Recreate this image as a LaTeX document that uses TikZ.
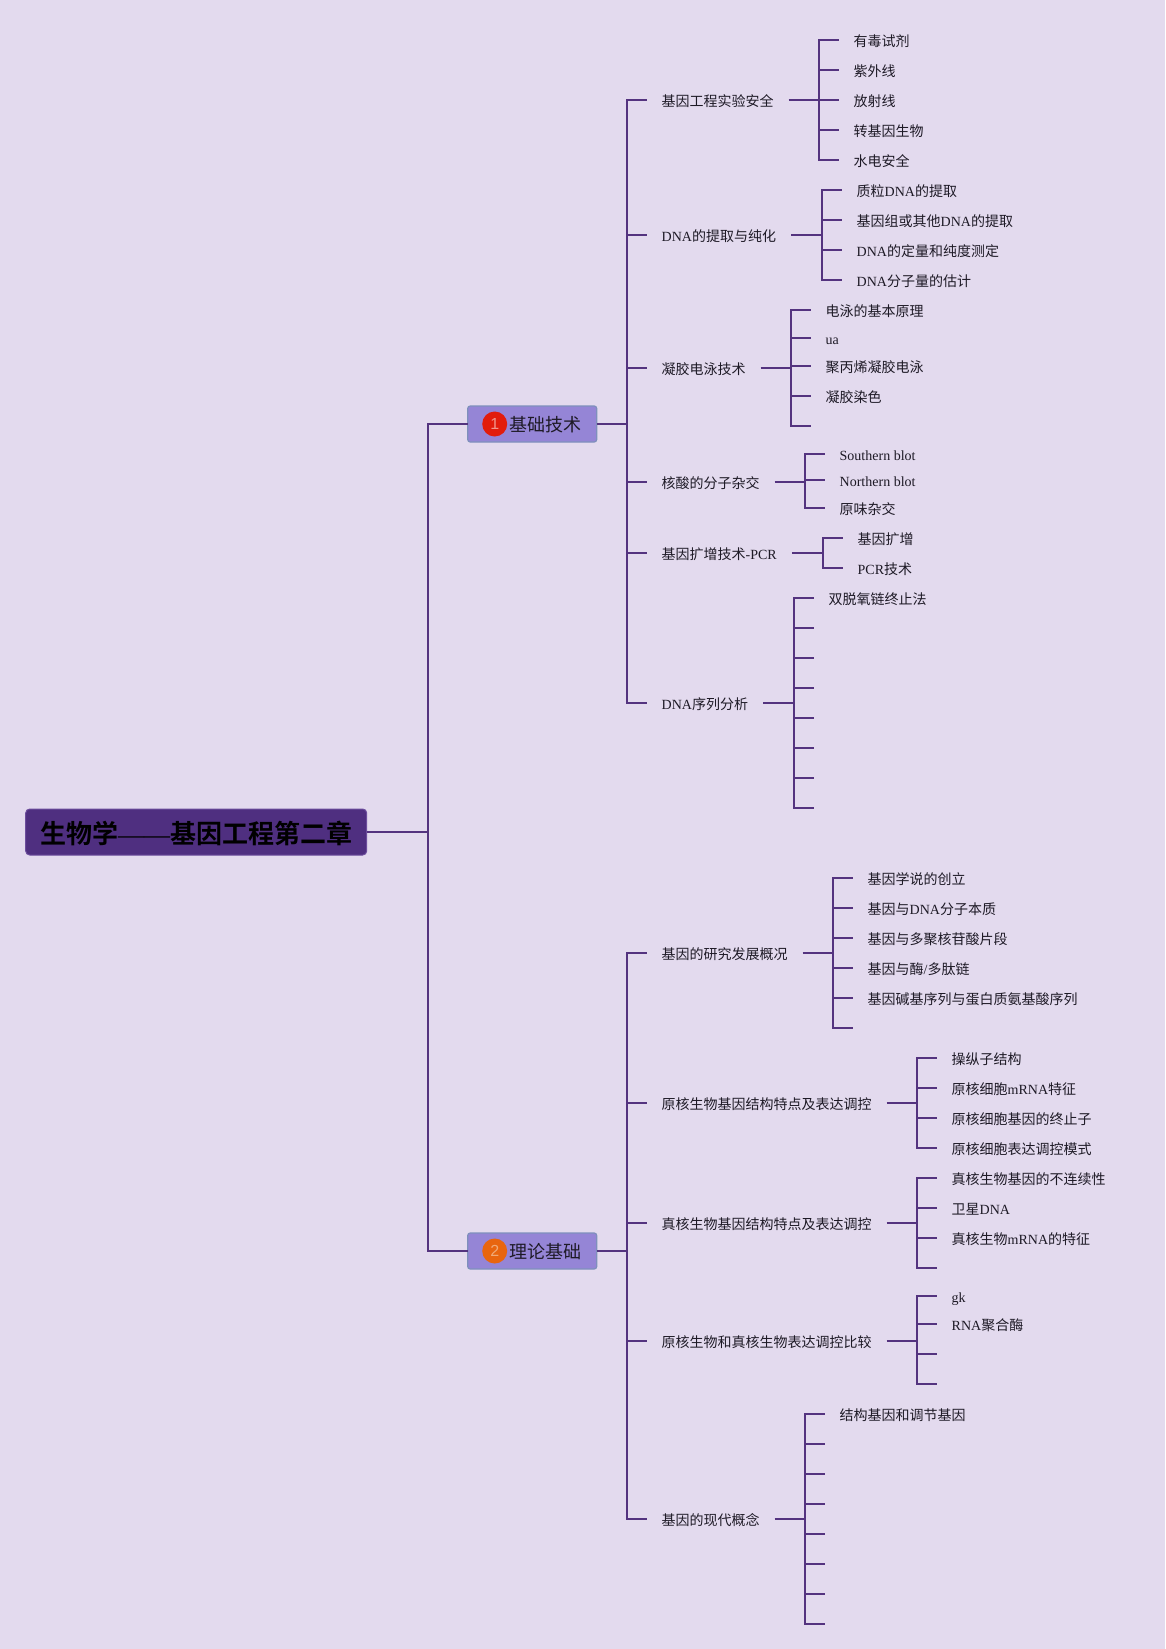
\documentclass[tikz,border=0pt]{standalone}
\usepackage{fontspec}
\setmainfont{Liberation Serif}
\newfontfamily\cjk[BoldFont={Noto Sans CJK SC Bold}]{Noto Sans CJK SC}
\newfontfamily\lsans{Liberation Sans}
\newfontfamily\lserif{Liberation Serif}
\newcommand{\zh}[1]{{\cjk #1}}
\definecolor{bgc}{HTML}{E3DAEE}
\definecolor{linec}{HTML}{54337F}
\definecolor{rootc}{HTML}{4F2F80}
\definecolor{rootb}{HTML}{6C4D9C}
\definecolor{topicc}{HTML}{9585D6}
\definecolor{topicb}{HTML}{7F90BC}
\definecolor{txtc}{HTML}{1E1A26}
\tikzset{
  conn/.style={draw=linec,line width=1.9pt},
  busline/.style={conn,line cap=rect},
  leaf/.style={anchor=west,inner xsep=15pt,inner ysep=0pt,outer sep=0pt,text height=13pt,text depth=0pt,text=txtc,font=\fontsize{14}{14}\selectfont},
  rootnode/.style={fill=rootc,draw=rootb,line width=1pt,rounded corners=4pt,minimum width=341pt,minimum height=46pt,inner sep=0pt,outer sep=0pt,text=black,text height=22.2pt,text depth=0pt,font=\fontsize{26}{26}\selectfont\bfseries},
  topic/.style={fill=topicc,draw=topicb,line width=1.2pt,rounded corners=2.5pt,minimum width=129pt,minimum height=36pt,inner xsep=15pt,inner ysep=0pt,outer sep=0pt,text=txtc,text height=15.6pt,text depth=0pt,font=\fontsize{18}{18}\selectfont},
  badge/.style={circle,minimum size=25pt,inner sep=0pt,font=\lsans\fontsize{16}{16}\selectfont}
}
% name, y, label, bus x, bus top, bus bottom, children y/text
\newcommand{\grp}[7]{%
  \node[leaf] (#1) at (646,#2) {#3};
  \coordinate (#1s) at (\spinex,#2);
  \draw[conn] (#1s) -- (#1.west);
  \coordinate (#1b) at (#4,#2);
  \draw[conn] (#1.east) -- (#1b);
  \coordinate (#1top) at (#4,#5);
  \coordinate (#1bot) at (#4,#6);
  \draw[busline] (#1top) -- (#1bot);
  \foreach \kidy/\kidt [count=\n] in {#7}{
    \node[leaf] (#1k\n) at (#4+20,\kidy) {\kidt};
    \coordinate (#1j\n) at (#4,\kidy);
    \draw[conn] (#1j\n) -- (#1k\n.west);
  }%
}
% name, bus x, empty child positions
\newcommand{\stubs}[3]{%
  \foreach \kidy [count=\n] in {#3}{
    \coordinate (#1j\n) at (#2,\kidy);
    \coordinate (#1e\n) at (#2+20,\kidy);
    \draw[conn] (#1j\n) -- (#1e\n);
  }%
}
\begin{document}
\begin{tikzpicture}[x=1pt,y=-1pt]
\fill[bgc] (0,0) rectangle (1165,1649);
\useasboundingbox (0,0) rectangle (1165,1649);
\begin{scope}[xshift=0.7pt]
\node[rootnode] (root) at (195.5,832) {\cjk 生物学{\lserif\mdseries ——}基因工程第二章};
\node[topic] (t1) at (531.5,424) {\hspace*{27pt}\zh{基础技术}};
\node[topic] (t2) at (531.5,1251) {\hspace*{27pt}\zh{理论基础}};
\node[badge,fill={rgb,255:red,226;green,28;blue,12},text={rgb,255:red,240;green,150;blue,140}] (b1) at (494,424) {1};
\node[badge,fill={rgb,255:red,232;green,101;blue,15},text={rgb,255:red,240;green,170;blue,120}] (b2) at (494,1251) {2};

\coordinate (mid) at (427,832);
\coordinate (midt) at (427,424);
\coordinate (midb) at (427,1251);
\draw[conn] (root.east) -- (mid);
\draw[conn] (t1.west) -- (midt) -- (midb) -- (t2.west);

% upper spine
\def\spinex{626}
\coordinate (s1t) at (626,100);
\coordinate (s1b) at (626,702.7);
\coordinate (s1m) at (626,424);
\draw[busline] (s1t) -- (s1b);
\draw[conn] (t1.east) -- (s1m);

\grp{a}{100}{\zh{基因工程实验安全}}{818}{40}{160}{40/{\zh{有毒试剂}},70/{\zh{紫外线}},100/{\zh{放射线}},130/{\zh{转基因生物}},160/{\zh{水电安全}}}
\grp{c}{235}{DNA\zh{的提取与纯化}}{821}{190}{280}{190/{\zh{质粒}DNA\zh{的提取}},220/{\zh{基因组或其他}DNA\zh{的提取}},250/{DNA\zh{的定量和纯度测定}},280/{DNA\zh{分子量的估计}}}
\grp{d}{367.7}{\zh{凝胶电泳技术}}{790}{309.7}{425.7}{309.7/{\zh{电泳的基本原理}},337.7/{ua},365.7/{\zh{聚丙烯凝胶电泳}},395.7/{\zh{凝胶染色}}}
\stubs{d}{790}{425.7}
\grp{f}{481.7}{\zh{核酸的分子杂交}}{804}{454}{507.7}{454/{Southern blot},479.7/{Northern blot},507.7/{\zh{原味杂交}}}
\grp{g}{552.7}{\zh{基因扩增技术}-PCR}{822}{538}{568}{538/{\zh{基因扩增}},568/{PCR\zh{技术}}}
\grp{h}{702.7}{DNA\zh{序列分析}}{793}{598}{808}{598/{\zh{双脱氧链终止法}}}
\stubs{h}{793}{628,658,688,718,748,778,808}

% lower spine
\coordinate (s2t) at (626,953);
\coordinate (s2b) at (626,1518.7);
\coordinate (s2m) at (626,1251);
\draw[busline] (s2t) -- (s2b);
\draw[conn] (t2.east) -- (s2m);

\grp{m}{953}{\zh{基因的研究发展概况}}{832}{878}{1028}{878/{\zh{基因学说的创立}},908/{\zh{基因与}DNA\zh{分子本质}},938/{\zh{基因与多聚核苷酸片段}},968/{\zh{基因与酶}/\zh{多肽链}},998/{\zh{基因碱基序列与蛋白质氨基酸序列}}}
\stubs{m}{832}{1028}
\grp{n}{1103}{\zh{原核生物基因结构特点及表达调控}}{916}{1058}{1148}{1058/{\zh{操纵子结构}},1088/{\zh{原核细胞}mRNA\zh{特征}},1118/{\zh{原核细胞基因的终止子}},1148/{\zh{原核细胞表达调控模式}}}
\grp{p}{1222.7}{\zh{真核生物基因结构特点及表达调控}}{916}{1178}{1268}{1178/{\zh{真核生物基因的不连续性}},1208/{\zh{卫星}DNA},1238/{\zh{真核生物}mRNA\zh{的特征}}}
\stubs{p}{916}{1268}
\grp{q}{1341}{\zh{原核生物和真核生物表达调控比较}}{916}{1296}{1384}{1296/{gk},1324/{RNA\zh{聚合酶}}}
\stubs{q}{916}{1354,1384}
\grp{r}{1518.7}{\zh{基因的现代概念}}{804}{1414}{1624}{1414/{\zh{结构基因和调节基因}}}
\stubs{r}{804}{1444,1474,1504,1534,1564,1594,1624}
\end{scope}
\end{tikzpicture}
\end{document}
